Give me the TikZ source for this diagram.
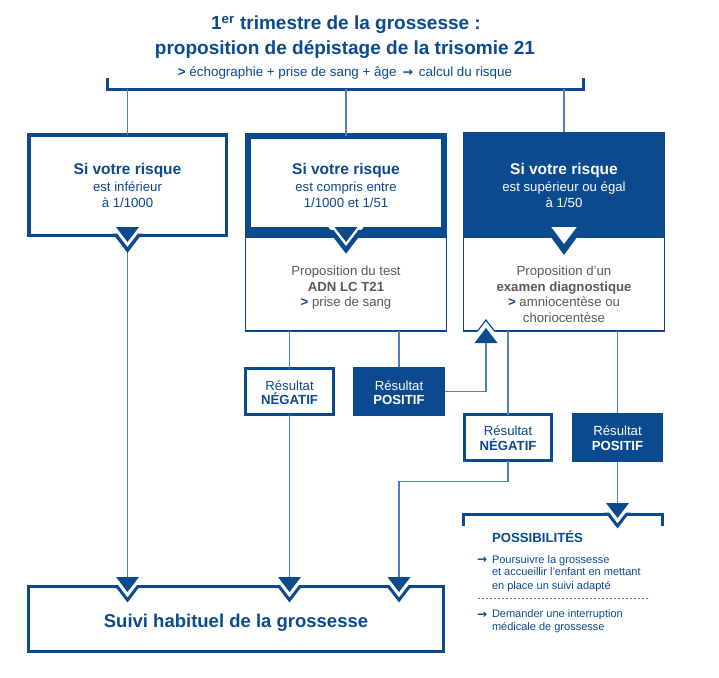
\documentclass[tikz,border=0pt]{standalone}
\usepackage{fontspec}
\setmainfont{Liberation Sans}
\newfontfamily\symfont{DejaVu Sans}
\usetikzlibrary{calc}
\definecolor{mblue}{HTML}{0B4A8F}
\definecolor{lblue}{HTML}{4F7FBF}
\definecolor{tgrey}{HTML}{58595B}
\tikzset{
  conn/.style={draw=lblue, line width=1.2pt},
  boxnode/.style={rectangle, inner sep=0pt, outer sep=0pt},
  thinframe/.style={boxnode, draw=mblue, line width=1.2pt},
  txt/.style={inner sep=0pt, outer sep=0pt, anchor=base},
  txtl/.style={inner sep=0pt, outer sep=0pt, anchor=base west},
  bigtitle/.style={txt, text=mblue, font=\bfseries\fontsize{19}{23}\selectfont},
  headt/.style={txt, font=\bfseries\fontsize{15.5}{18}\selectfont},
  bodyt/.style={txt, font=\fontsize{13.2}{16}\selectfont},
  boldt/.style={txt, font=\bfseries\fontsize{13.2}{16}\selectfont},
  smallt/.style={txtl, text=mblue, font=\fontsize{11}{13}\selectfont},
  arrowt/.style={txtl, text=mblue, font=\symfont\bfseries\fontsize{12}{13}\selectfont},
}
\newcommand\dnotch[4]{%
  \pgfmathsetmacro\nVa{#2+23}%
  \pgfmathsetmacro\nCh{(\nVa-#2)*0.767}%
  \pgfmathsetmacro\nAr{(\nVa-#3)*0.767}%
  \fill[white] (#1-\nCh,#2) -- (#1+\nCh,#2) -- (#1,\nVa) -- cycle;
  \draw[mblue, line width=#4pt, line join=miter] (#1-\nAr-4,#3) -- (#1-\nAr,#3) -- (#1,\nVa) -- (#1+\nAr,#3) -- (#1+\nAr+4,#3);
  \fill[mblue] (#1-11.5,#2) -- (#1+11.5,#2) -- (#1,#2+15) -- cycle;
}
\newcommand\unotch[4]{%
  \pgfmathsetmacro\nVa{#2-23}%
  \pgfmathsetmacro\nCh{(#2-\nVa)*0.767}%
  \pgfmathsetmacro\nAr{(#3-\nVa)*0.767}%
  \fill[white] (#1-\nCh,#2) -- (#1+\nCh,#2) -- (#1,\nVa) -- cycle;
  \draw[mblue, line width=#4pt, line join=miter] (#1-\nAr-4,#3) -- (#1-\nAr,#3) -- (#1,\nVa) -- (#1+\nAr,#3) -- (#1+\nAr+4,#3);
  \fill[mblue] (#1-11.5,#2) -- (#1+11.5,#2) -- (#1,#2-15) -- cycle;
}
\begin{document}
\begin{tikzpicture}[x=1pt,y=-1pt]
\useasboundingbox (0,0) rectangle (719,677);
\fill[white] (0,0) rectangle (719,677);

% ---------- title ----------
\node[bigtitle] (t1) at (346,29.3) {1\textsuperscript{er} trimestre de la grossesse :};
\node[bigtitle] (t2) at (345,54) {proposition de dépistage de la trisomie 21};
\node[txt, text=mblue, font=\fontsize{13.4}{16}\selectfont] (t3) at (345,76)
  {{\bfseries >} échographie + prise de sang + âge \,{\symfont\bfseries\fontsize{12.5}{13}\selectfont →}\, calcul du risque};

% bracket
\draw[mblue, line width=3pt, line join=miter] (107,78) -- (107,89) -- (583,89) -- (583,78);
\coordinate (br) at (345,89);

% ---------- boxes (nodes) ----------
\node[boxnode, draw=mblue, line width=3.5pt, minimum width=197.5pt, minimum height=100.5pt] (b1) at (127.5,185) {};
\node[thinframe, minimum width=200.8pt, minimum height=94pt] (b2l) at (346,284) {};
\node[boxnode, draw=mblue, line width=6pt, minimum width=196pt, minimum height=98pt] (b2) at (346,185) {};
\node[thinframe, minimum width=200.8pt, minimum height=94pt] (b3l) at (564,284) {};
\node[boxnode, fill=mblue, minimum width=202pt, minimum height=105pt] (b3) at (564,184.5) {};

\node[boxnode, draw=mblue, line width=3pt, minimum width=88pt, minimum height=46pt] (n1) at (289.5,391.5) {};
\node[boxnode, fill=mblue, minimum width=92pt, minimum height=49pt] (p1) at (399,391.5) {};
\node[boxnode, draw=mblue, line width=3pt, minimum width=87pt, minimum height=46pt] (n2) at (508,437.5) {};
\node[boxnode, fill=mblue, minimum width=91pt, minimum height=49pt] (p2) at (617.5,437.5) {};

\node[boxnode, draw=mblue, line width=3pt, minimum width=415pt, minimum height=65pt] (fin) at (236,619) {};

% arrow tip coordinates
\coordinate (a1) at (127.5,577);
\coordinate (a2) at (289.5,577);
\coordinate (a3) at (399,577);
\coordinate (aup) at (486,343);
\coordinate (apos) at (617.5,503);

% ---------- connectors ----------
\draw[conn] (b1.north |- br) -- (b1.north);
\draw[conn] (b2.north |- br) -- (b2.north);
\draw[conn] (b3.north |- br) -- (b3.north);
\draw[conn] (b1.south) -- (a1);
\draw[conn] (n1.north |- b2l.south) -- (n1.north);
\draw[conn] (p1.north |- b2l.south) -- (p1.north);
\draw[conn] (n1.south) -- (a2);
\draw[conn] (p1.east) -- (p1.east -| aup) -- (aup);
\draw[conn] (n2.north |- b3l.south) -- (n2.north);
\draw[conn] (p2.north |- b3l.south) -- (p2.north);
\draw[conn] (n2.south) -- ++(0,21) -| (a3);
\draw[conn] (p2.south) -- (apos);

% box 2 bottom band
\fill[mblue] (245,227) rectangle (447,237);

% possibilities bracket
\draw[mblue, line width=3pt, line join=miter] (463,526) -- (463,514) -- (662,514) -- (662,526);

% ---------- notches ----------
\dnotch{127.5}{227}{235.25}{3.5}
\dnotch{346}{227}{232}{4.5}
\fill[mblue] (564-13.5,236.5) -- (564+13.5,236.5) -- (564,255) -- cycle;
\fill[white] (564-12.75,227) -- (564+12.75,227) -- (564,244) -- cycle;
\unotch{486}{343}{331}{1.2}
\dnotch{127.5}{577}{586.5}{3}
\dnotch{289.5}{577}{586.5}{3}
\dnotch{399}{577}{586.5}{3}
\dnotch{617.5}{503}{514}{3}

% ---------- texts ----------
\node[headt, text=mblue] (x1a) at (127.5,174.3) {Si votre risque};
\node[bodyt, text=mblue] (x1b) at (127.5,191) {est inférieur};
\node[bodyt, text=mblue] (x1c) at (127.5,207.7) {à 1/1000};

\node[headt, text=mblue] (x2a) at (346,174.3) {Si votre risque};
\node[bodyt, text=mblue] (x2b) at (346,191) {est compris entre};
\node[bodyt, text=mblue] (x2c) at (346,207.7) {1/1000 et 1/51};
\node[bodyt, text=tgrey] (x2d) at (346,275.3) {Proposition du test};
\node[boldt, text=tgrey] (x2e) at (346,291) {ADN LC T21};
\node[bodyt, text=tgrey] (x2f) at (346,306.7) {{\color{mblue}\bfseries >} prise de sang};

\node[headt, text=white] (x3a) at (564,174.3) {Si votre risque};
\node[bodyt, text=white] (x3b) at (564,191) {est supérieur ou égal};
\node[bodyt, text=white] (x3c) at (564,207.7) {à 1/50};
\node[bodyt, text=tgrey] (x3d) at (564,275.3) {Proposition d'un};
\node[boldt, text=tgrey] (x3e) at (564,291) {examen diagnostique};
\node[bodyt, text=tgrey] (x3f) at (564,306.7) {{\color{mblue}\bfseries >} amniocentèse ou};
\node[bodyt, text=tgrey] (x3g) at (564,322.7) {choriocentèse};

\node[bodyt, text=mblue] (r1a) at (289.5,390) {Résultat};
\node[boldt, text=mblue] (r1b) at (289.5,404) {NÉGATIF};
\node[bodyt, text=white] (r2a) at (399,390) {Résultat};
\node[boldt, text=white] (r2b) at (399,404) {POSITIF};
\node[bodyt, text=mblue] (r3a) at (508,435.7) {Résultat};
\node[boldt, text=mblue] (r3b) at (508,450.7) {NÉGATIF};
\node[bodyt, text=white] (r4a) at (617.5,435.7) {Résultat};
\node[boldt, text=white] (r4b) at (617.5,450.7) {POSITIF};

\node[txtl, text=mblue, font=\bfseries\fontsize{13.2}{16}\selectfont] (ph) at (492,542.7) {POSSIBILITÉS};
\node[arrowt] (pa1) at (477,563.8) {→};
\node[smallt] (pl1) at (492,563.3) {Poursuivre la grossesse};
\node[smallt] (pl2) at (492,575.7) {et accueillir l'enfant en mettant};
\node[smallt] (pl3) at (492,589) {en place un suivi adapté};
\draw[lblue, line width=0.8pt, dash pattern=on 2pt off 2pt] (478,598) -- (648,598);
\node[arrowt] (pa2) at (477,618.2) {→};
\node[smallt] (pl4) at (492,617.7) {Demander une interruption};
\node[smallt] (pl5) at (492,630) {médicale de grossesse};

\node[txt, text=mblue, font=\bfseries\fontsize{18.5}{22}\selectfont] (fx) at (236,627.3) {Suivi habituel de la grossesse};
\end{tikzpicture}
\end{document}
